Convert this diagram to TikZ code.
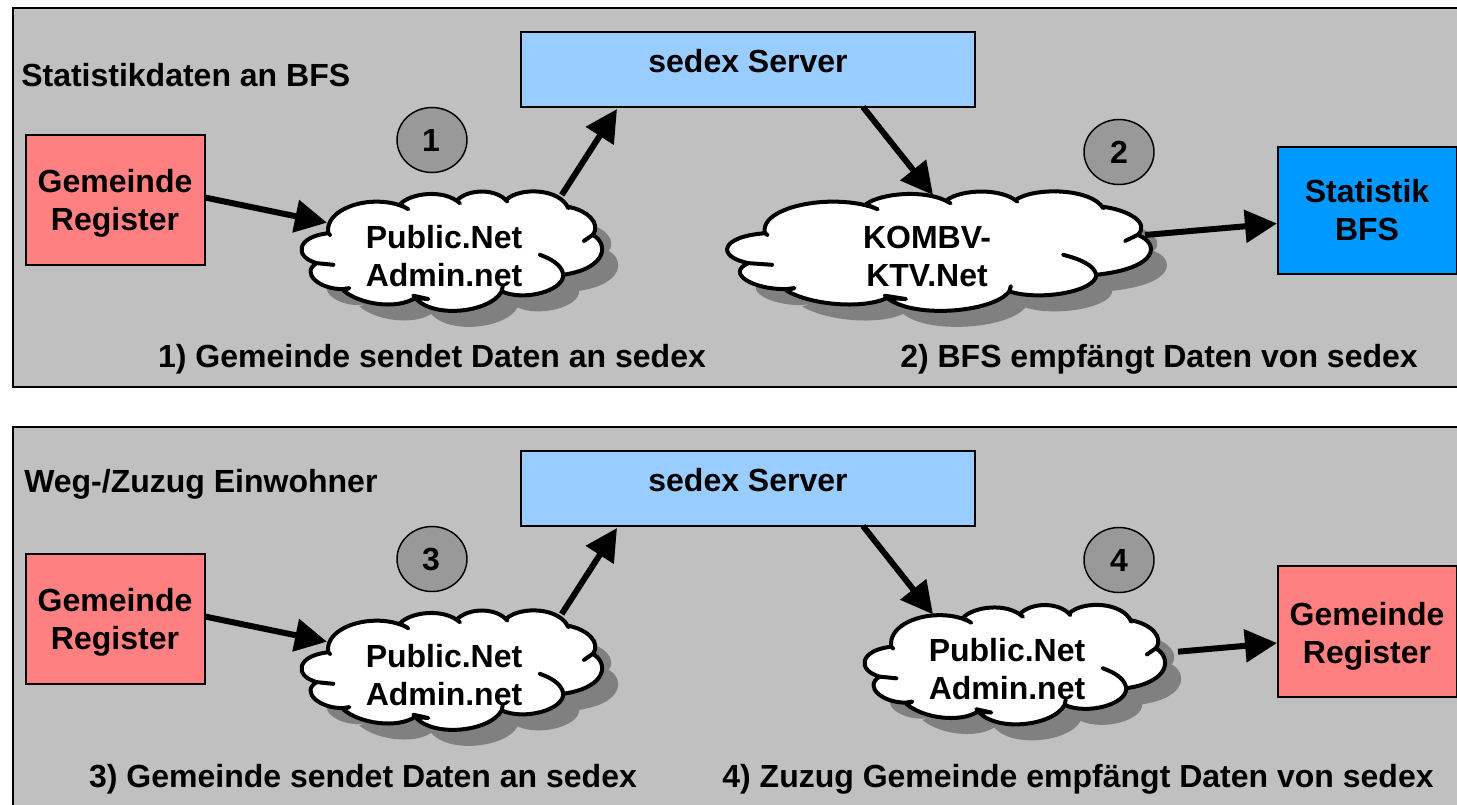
\documentclass[tikz,border=0pt]{standalone}
\usepackage{fontspec}
\setmainfont{Liberation Sans}
\usetikzlibrary{arrows.meta,calc,shapes.geometric}
\definecolor{panelgray}{RGB}{192,192,192}
\definecolor{shadowgray}{RGB}{128,128,128}
\definecolor{regred}{RGB}{255,128,128}
\definecolor{srvblue}{RGB}{153,204,255}
\definecolor{bfsblue}{RGB}{0,153,255}
\definecolor{numgray}{RGB}{153,153,153}
\tikzset{
  panelbox/.style={draw=black,line width=1.5pt,fill=panelgray},
  colbox/.style={draw=black,line width=1.5pt,anchor=north west,inner sep=0pt,outer sep=0pt},
  lbl/.style={font=\bfseries\fontsize{24}{28.5}\selectfont,align=center,text=black,inner sep=0pt},
  line1/.style={lbl,anchor=base},
  numdisc/.style={ellipse,draw=black,line width=1.1pt,fill=numgray,minimum width=52.5pt,minimum height=48.75pt,inner sep=0pt},
  arr/.style={line width=4.5pt,draw=black,-{Triangle[length=24pt,width=24pt]}},
  cloudline/.style={draw=black,line width=3pt,fill=white,line join=round},
}
\newcommand{\twolines}[2]{\rule{0pt}{20pt}#1\\#2\rule[-6pt]{0pt}{6pt}}
\newcommand{\cloudoutline}{
  (145,190) .. controls (135,135) and (210,95) .. (290,95)
  .. controls (330,95) and (365,105) .. (385,118) -- (360,103)
  .. controls (390,70) and (490,55) .. (540,100) -- (530,92)
  .. controls (565,55) and (650,55) .. (682,95) -- (678,90)
  .. controls (720,50) and (840,55) .. (865,115) -- (862,110)
  .. controls (920,120) and (965,160) .. (938,195) -- (912,213) -- (938,195)
  .. controls (985,220) and (985,295) .. (850,315)
  .. controls (845,285) and (815,268) .. (780,255)
  .. controls (815,268) and (845,285) .. (850,315)
  .. controls (850,365) and (730,395) .. (665,365) -- (668,350) -- (665,365)
  .. controls (630,430) and (450,450) .. (400,378) -- (445,388) -- (405,385)
  .. controls (350,420) and (240,405) .. (190,362) -- (208,355) -- (190,358)
  .. controls (120,360) and (60,310) .. (110,280) -- (160,285) -- (110,280)
  .. controls (40,260) and (50,200) .. (145,190) -- (150,195) -- cycle
}
% #1 cx, #2 cy, #3 w, #4 h  (pixels)
\newcommand{\cloudshape}[4]{%
  \pgfmathsetmacro{\sxx}{#3*0.75/915}%
  \pgfmathsetmacro{\syy}{-#4*0.75/370}%
  \begin{scope}[shift={(#1+16,#2+16)},x={(\sxx pt,0)},y={(0,\syy pt)},shift={(-517.5,-245)}]
    \path[fill=shadowgray] \cloudoutline;
  \end{scope}
  \begin{scope}[shift={(#1,#2)},x={(\sxx pt,0)},y={(0,\syy pt)},shift={(-517.5,-245)}]
    \path[cloudline] \cloudoutline;
  \end{scope}}
\begin{document}
\begin{tikzpicture}[x=0.75pt,y=-0.75pt]
\useasboundingbox (0,0) rectangle (1457,804);
\clip (0,0) rectangle (1457,804);
\fill[white] (0,0) rectangle (1457,804);
\draw[panelbox] (13,8) rectangle (1470,387);
\draw[panelbox] (13,427) rectangle (1470,820);

% boxes
\node[colbox,fill=srvblue,minimum width=340.5pt,minimum height=56.25pt] (srv1) at (521,32) {};
\node[line1] (srv1t) at (748,72.7) {sedex Server};
\node[colbox,fill=srvblue,minimum width=340.5pt,minimum height=56.25pt] (srv2) at (521,451) {};
\node[line1] (srv2t) at (748,491.7) {sedex Server};
\node[colbox,fill=regred,minimum width=134.25pt,minimum height=97.5pt] (reg1) at (26,134.5) {};
\node[lbl] at (115,202.4) {\twolines{Gemeinde}{Register}};
\node[colbox,fill=regred,minimum width=134.25pt,minimum height=97.5pt] (reg2) at (26,553.5) {};
\node[lbl] at (115,621.4) {\twolines{Gemeinde}{Register}};
\node[colbox,fill=bfsblue,minimum width=134.25pt,minimum height=95.25pt] (bfs) at (1277.5,147) {};
\node[lbl] at (1367,212.4) {\twolines{Statistik}{BFS}};
\node[colbox,fill=regred,minimum width=134.25pt,minimum height=98.25pt] (reg3) at (1277.5,566) {};
\node[lbl] at (1367,634.7) {\twolines{Gemeinde}{Register}};

% discs
\node[numdisc] (n1) at (432,140) {};
\node[line1] at (431,151.7) {1};
\node[numdisc] (n2) at (1119,152) {};
\node[line1] at (1119,163.7) {2};
\node[numdisc] (n3) at (432,559) {};
\node[line1] at (431,570.7) {3};
\node[numdisc] (n4) at (1119,560) {};
\node[line1] at (1119,571.7) {4};

% clouds
\cloudshape{452.5}{251.5}{305}{123}
\cloudshape{940}{251.5}{430}{123}
\cloudshape{452.5}{670.5}{305}{123}
\cloudshape{1015.5}{665}{305}{123}
\node[lbl] (c1) at (444,258) {\twolines{Public.Net}{Admin.net}};
\node[lbl] (c2) at (927,258) {\twolines{KOMBV-}{KTV.Net}};
\node[lbl] (c3) at (444,677) {\twolines{Public.Net}{Admin.net}};
\node[lbl] (c4) at (1007,671.4) {\twolines{Public.Net}{Admin.net}};

% connectors
\draw[arr] ($(reg1.east)+(0,-2)$) -- ($(c1)+(-117,-35.3)$);
\draw[arr] ($(c1)+(117.7,-63)$) -- ($(srv1.south west)+(96,2)$);
\draw[arr] ($(srv1.south west)+(342,0)$) -- ($(c2)+(6,-63)$);
\draw[arr] ($(c2)+(218,-23)$) -- ($(bfs.west)+(-0.5,13)$);
\draw[arr] ($(reg2.east)+(0,-2)$) -- ($(c3)+(-117,-35.3)$);
\draw[arr] ($(c3)+(117.7,-63)$) -- ($(srv2.south west)+(96,2)$);
\draw[arr] ($(srv2.south west)+(342,0)$) -- ($(c4)+(-74,-57)$);
\draw[arr] ($(c4)+(171,-19.7)$) -- ($(reg3.west)+(-0.5,11.5)$);

% labels
\node[lbl,anchor=base west] (t1) at (21,86.7) {Statistikdaten an BFS};
\node[lbl,anchor=base west] (t2) at (24,492.7) {Weg-/Zuzug Einwohner};
\node[line1] (s1) at (432,367.3) {1) Gemeinde sendet Daten an sedex};
\node[line1] (s2) at (1159,367.3) {2) BFS empfängt Daten von sedex};
\node[line1] (s3) at (363,787) {3) Gemeinde sendet Daten an sedex};
\node[line1] (s4) at (1078,787) {4) Zuzug Gemeinde empfängt Daten von sedex};
\end{tikzpicture}
\end{document}
